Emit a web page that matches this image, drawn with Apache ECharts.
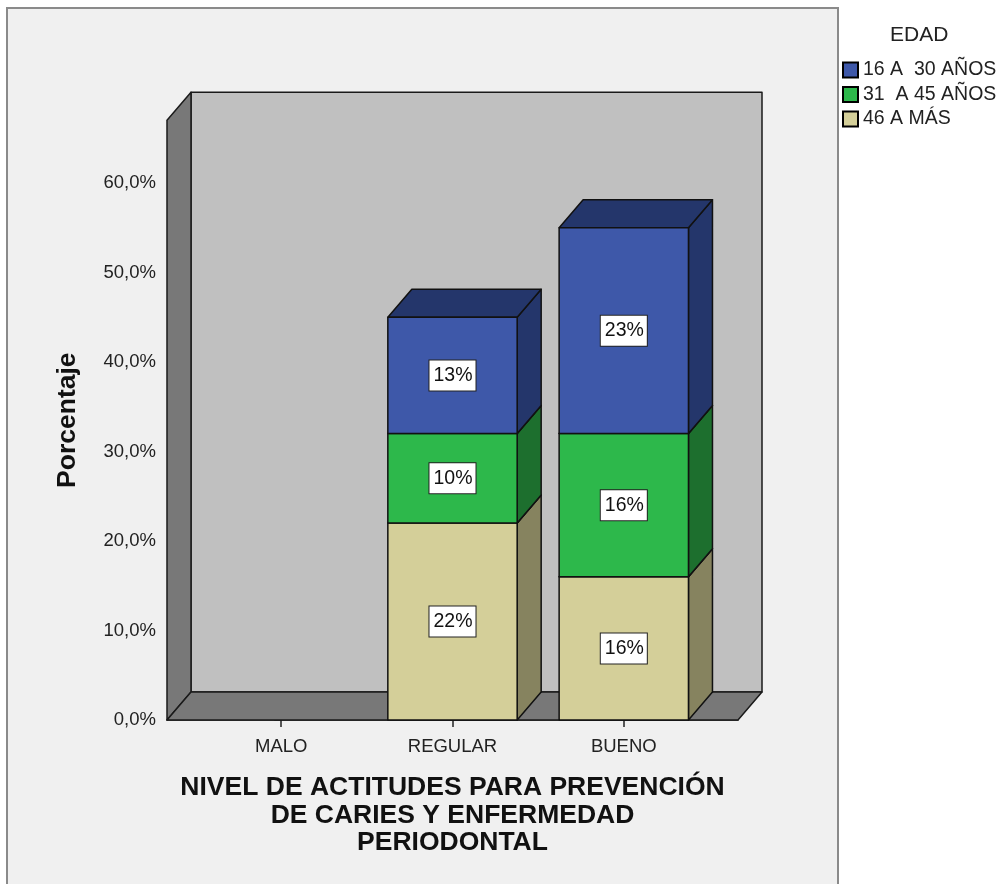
<!DOCTYPE html>
<html>
<head>
<meta charset="utf-8">
<script src="https://cdn.jsdelivr.net/npm/echarts@6/dist/echarts.min.js"></script>
<style>
  html, body { margin: 0; padding: 0; background: #ffffff; }
  #chart { width: 1001px; height: 884px; }
</style>
</head>
<body>
<div id="chart"></div>
<script>
// ---- data ----
const categories = ['MALO', 'REGULAR', 'BUENO'];
const seriesNames = ['16 A  30 AÑOS', '31  A 45 AÑOS', '46 A MÁS'];
const age16to30 = [0, 13, 23];
const age31to45 = [0, 10, 16];
const age46plus = [0, 22, 16];
const yTicks = [0, 10, 20, 30, 40, 50, 60];
const categoryTicks = [0, 1, 2];

// ---- styles ----
const FONT = '"Liberation Sans", Arial, sans-serif';
const DX = 24, DY = -28;          // 3D depth offset in pixels
const BAR_W = 0.755;              // bar width in category units
const X_MIN = -2 / 3, X_MAX = 2 + 2 / 3, Y_MAX = 67;
const colors = {
  '16 A  30 AÑOS': { front: '#3e58a9', dark: '#24366b' },
  '31  A 45 AÑOS': { front: '#2db84b', dark: '#1d6f2e' },
  '46 A MÁS':      { front: '#d4cf99', dark: '#86835f' }
};

// stacking, bottom segment first
const stackOrder = [
  { name: '46 A MÁS', values: age46plus },
  { name: '31  A 45 AÑOS', values: age31to45 },
  { name: '16 A  30 AÑOS', values: age16to30 }
];
const bases = categories.map(() => 0);
const barSeries = stackOrder.map(s => {
  const data = s.values.map((v, i) => {
    const item = [i, bases[i], v];
    bases[i] += v;
    return item;
  });
  const c = colors[s.name];
  return {
    type: 'custom',
    name: s.name,
    coordinateSystem: 'cartesian2d',
    clip: false,
    z: 5,
    itemStyle: { color: c.front, borderColor: '#000', borderWidth: 1 },
    data: data,
    renderItem: function (params, api) {
      const cat = api.value(0), base = api.value(1), val = api.value(2);
      if (!val) return { type: 'group', children: [] };
      const p0 = api.coord([cat - BAR_W / 2, base]);
      const p1 = api.coord([cat + BAR_W / 2, base + val]);
      const x0 = p0[0], x1 = p1[0], yb = p0[1], yt = p1[1];
      const stroke = { stroke: '#111', lineWidth: 1.5, lineJoin: 'round' };
      return {
        type: 'group',
        children: [
          { type: 'polygon', shape: { points: [[x1, yb], [x1 + DX, yb + DY], [x1 + DX, yt + DY], [x1, yt]] },
            style: Object.assign({ fill: c.dark }, stroke) },
          { type: 'polygon', shape: { points: [[x0, yt], [x0 + DX, yt + DY], [x1 + DX, yt + DY], [x1, yt]] },
            style: Object.assign({ fill: c.dark }, stroke) },
          { type: 'rect', shape: { x: x0, y: yt, width: x1 - x0, height: yb - yt },
            style: Object.assign({ fill: c.front }, stroke) },
          { type: 'text', x: (x0 + x1) / 2, y: (yt + yb) / 2,
            style: { text: Math.round(val) + '%', fontFamily: FONT, fontSize: 19.5, fill: '#111',
              align: 'center', verticalAlign: 'middle',
              backgroundColor: '#ffffff', borderColor: '#222', borderWidth: 1, padding: [5, 3, 5, 4] } }
        ]
      };
    }
  };
});

const wallSeries = {
  type: 'custom',
  name: 'walls',
  coordinateSystem: 'cartesian2d',
  clip: false,
  z: 1,
  silent: true,
  data: [[X_MIN, Y_MAX]],
  renderItem: function (params, api) {
    const bl = api.coord([X_MIN, 0]);
    const br = api.coord([X_MAX, 0]);
    const tl = api.coord([X_MIN, Y_MAX]);
    const stroke = { stroke: '#1a1a1a', lineWidth: 1.5, lineJoin: 'round' };
    return {
      type: 'group',
      children: [
        { type: 'rect', shape: { x: bl[0] + DX, y: tl[1] + DY, width: br[0] - bl[0], height: bl[1] - tl[1] },
          style: Object.assign({ fill: '#c0c0c0' }, stroke) },
        { type: 'polygon', shape: { points: [[bl[0], bl[1]], [bl[0] + DX, bl[1] + DY], [bl[0] + DX, tl[1] + DY], [tl[0], tl[1]]] },
          style: Object.assign({ fill: '#787878' }, stroke) },
        { type: 'polygon', shape: { points: [[bl[0], bl[1]], [bl[0] + DX, bl[1] + DY], [br[0] + DX, br[1] + DY], [br[0], br[1]]] },
          style: Object.assign({ fill: '#787878' }, stroke) }
      ]
    };
  }
};

const chart = echarts.init(document.getElementById('chart'), null, { renderer: 'canvas' });
chart.setOption({
  backgroundColor: '#ffffff',
  animation: false,
  textStyle: { fontFamily: FONT },
  graphic: {
    elements: [{
      type: 'rect', z: -100, silent: true,
      shape: { x: 7, y: 8, width: 831, height: 900 },
      style: { fill: '#f0f0f0', stroke: '#8a8a8a', lineWidth: 2 }
    }]
  },
  title: {
    text: 'EDAD', left: 885, top: 20,
    textStyle: { fontFamily: FONT, fontSize: 21, fontWeight: 'normal', color: '#222' }
  },
  legend: {
    data: seriesNames,
    orient: 'vertical',
    left: 842, top: 60,
    padding: 0,
    icon: 'rect',
    itemWidth: 15, itemHeight: 15, itemGap: 4.5,
    textStyle: { fontFamily: FONT, fontSize: 19.5, color: '#222', lineHeight: 19 }
  },
  grid: { left: 167, right: 263, top: 720 - Y_MAX * 8.95, bottom: 164 },
  xAxis: {
    type: 'value', min: X_MIN, max: X_MAX,
    splitLine: { show: false },
    axisLine: { show: true, onZero: false, lineStyle: { color: '#111', width: 1.5 } },
    axisTick: { show: true, customValues: categoryTicks, length: 7, lineStyle: { color: '#222', width: 1.5 } },
    axisLabel: { customValues: categoryTicks, formatter: v => categories[Math.round(v)] || '',
      fontFamily: FONT, fontSize: 18.5, color: '#222', margin: 17 },
    name: 'NIVEL DE ACTITUDES PARA PREVENCIÓN\nDE CARIES Y ENFERMEDAD\nPERIODONTAL',
    nameLocation: 'middle', nameGap: 54,
    nameTextStyle: { fontFamily: FONT, fontSize: 26.5, fontWeight: 'bold', color: '#111', lineHeight: 27.5, align: 'center', verticalAlign: 'top' }
  },
  yAxis: {
    type: 'value', min: 0, max: Y_MAX,
    splitLine: { show: false },
    axisLine: { show: true, lineStyle: { color: '#111', width: 1.5 } },
    axisTick: { show: true, customValues: yTicks, length: 7, lineStyle: { color: '#222', width: 1.5 } },
    axisLabel: { customValues: yTicks, formatter: v => v.toFixed(1).replace('.', ',') + '%',
      fontFamily: FONT, fontSize: 18.5, color: '#222', margin: 11 },
    name: 'Porcentaje', nameLocation: 'middle', nameGap: 86, nameRotate: 90,
    nameTextStyle: { fontFamily: FONT, fontSize: 26.5, fontWeight: 'bold', color: '#111' }
  },
  series: [wallSeries].concat(barSeries)
});
</script>
</body>
</html>
